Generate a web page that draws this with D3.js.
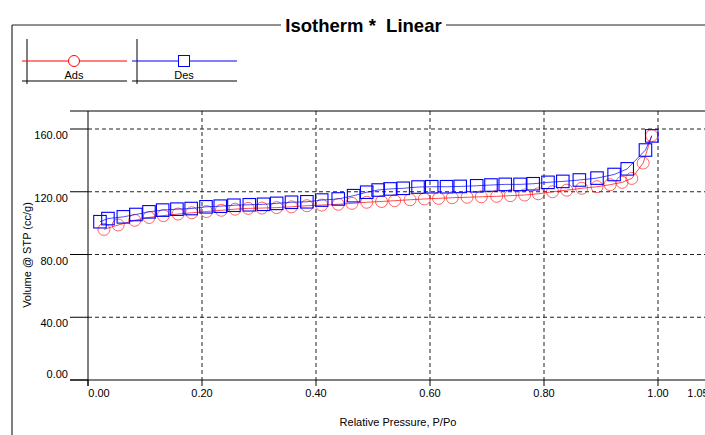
<!DOCTYPE html>
<html>
<head>
<meta charset="utf-8">
<script src="https://cdn.jsdelivr.net/npm/d3@7"></script>
<style>
  body { margin: 0; background: #fff; }
  svg { display: block; font-family: 'Liberation Sans', Arial, sans-serif; }
</style>
</head>
<body>
<svg width="705" height="435"></svg>
<script>
// isotherm data: relative pressure P/Po and volume (cc/g STP)
const adsP = [0.028, 0.053, 0.082, 0.107, 0.132, 0.158, 0.182, 0.208, 0.234, 0.258,
              0.281, 0.305, 0.331, 0.357, 0.384, 0.410, 0.439, 0.463, 0.489, 0.515,
              0.538, 0.565, 0.590, 0.615, 0.639, 0.665, 0.690, 0.717, 0.741, 0.766,
              0.790, 0.815, 0.840, 0.866, 0.893, 0.916, 0.937, 0.954, 0.974, 0.989];
const adsV = [96.0, 98.8, 101.8, 103.6, 104.8, 105.8, 106.6, 107.4, 108.2, 108.9,
              109.4, 109.6, 109.9, 110.4, 111.1, 111.5, 112.0, 112.6, 113.3, 113.8,
              114.3, 114.9, 115.4, 115.8, 116.2, 116.5, 116.8, 117.1, 117.5, 117.9,
              118.7, 120.0, 121.0, 122.2, 123.2, 124.5, 126.0, 128.5, 138.3, 155.8];

const desP = [0.021, 0.035, 0.062, 0.084, 0.107, 0.131, 0.156, 0.181, 0.207, 0.232,
              0.256, 0.283, 0.308, 0.331, 0.357, 0.384, 0.410, 0.439, 0.466, 0.489,
              0.509, 0.530, 0.553, 0.579, 0.603, 0.629, 0.653, 0.682, 0.707, 0.732,
              0.758, 0.781, 0.807, 0.833, 0.862, 0.893, 0.923, 0.946, 0.978, 0.989];
const desV = [100.9, 102.9, 104.0, 105.5, 107.2, 108.3, 108.9, 109.3, 110.4, 110.8,
              111.4, 111.7, 112.0, 112.6, 113.3, 113.6, 114.7, 115.4, 117.5, 119.7,
              121.1, 121.8, 122.2, 123.0, 123.2, 123.2, 123.4, 123.8, 124.3, 124.7,
              124.7, 125.1, 126.0, 126.6, 127.5, 128.7, 131.0, 134.6, 146.6, 155.6];

const xTicks = [0, 0.2, 0.4, 0.6, 0.8, 1.0];
const yTicks = [0, 40, 80, 120, 160];
const xEndLabel = '1.05';

const series = [
  { name: 'Ads', p: adsP, v: adsV, color: '#ff0000', marker: 'circle' },
  { name: 'Des', p: desP, v: desV, color: '#0000ff', marker: 'square' }
];

const svg = d3.select('svg');

const x = d3.scaleLinear().domain([0, 1]).range([88, 658]);
const y = d3.scaleLinear().domain([0, 160]).range([380, 129]);
const plotTop = 111, plotRight = 705, axisLeft = 70;

// frame round the chart, broken by the title
const frame = svg.append('g').attr('class', 'frame');
frame.append('line').attr('x1', 12).attr('x2', 12).attr('y1', 25).attr('y2', 435)
  .style('stroke', '#555').style('stroke-width', 1.5);
frame.append('line').attr('x1', 12).attr('x2', 281).attr('y1', 25).attr('y2', 25)
  .style('stroke', '#222').style('stroke-width', 1);
frame.append('line').attr('x1', 446).attr('x2', 705).attr('y1', 25).attr('y2', 25)
  .style('stroke', '#222').style('stroke-width', 1);
frame.append('text')
  .attr('x', 363.5).attr('y', 32)
  .attr('text-anchor', 'middle')
  .style('font-size', '18.5px').style('font-weight', 700)
  .style('white-space', 'pre')
  .text('Isotherm *  Linear');

// legend
const legend = svg.append('g').attr('class', 'legendGrp');
const legItems = legend.selectAll('g.legItem')
  .data(series)
  .enter()
  .append('g')
  .attr('class', 'legItem')
  .attr('transform', (d, i) => `translate(${22 + i * 110}, 0)`);

legItems.append('line').attr('x1', 5).attr('x2', 5).attr('y1', 39).attr('y2', 84)
  .style('stroke', '#000').style('stroke-width', 1);
legItems.append('line').attr('x1', 0).attr('x2', 105).attr('y1', 81).attr('y2', 81)
  .style('stroke', '#000').style('stroke-width', 1);
legItems.append('line').attr('x1', 0).attr('x2', 105).attr('y1', 61).attr('y2', 61)
  .style('stroke', d => d.color).style('stroke-width', 1);
legItems.each(function(d) {
  const g = d3.select(this);
  if (d.marker === 'circle') {
    g.append('circle').attr('cx', 52).attr('cy', 61).attr('r', 5.5)
      .style('fill', '#fff').style('stroke', d.color);
  } else {
    g.append('rect').attr('x', 46.5).attr('y', 55.5).attr('width', 11).attr('height', 11)
      .style('fill', '#fff').style('stroke', d.color);
  }
});
legItems.append('text')
  .attr('x', 52).attr('y', 78.5)
  .attr('text-anchor', 'middle')
  .style('font-size', '11px')
  .text(d => d.name);

// grid
const grid = svg.append('g').attr('class', 'grid')
  .style('stroke', '#222').style('stroke-width', 1).style('stroke-dasharray', '4,3');
grid.selectAll('line.hGrid')
  .data(yTicks.filter(d => d > 0))
  .enter().append('line').attr('class', 'hGrid')
  .attr('x1', x(0)).attr('x2', plotRight)
  .attr('y1', d => y(d)).attr('y2', d => y(d));
grid.selectAll('line.vGrid')
  .data(xTicks.filter(d => d > 0))
  .enter().append('line').attr('class', 'vGrid')
  .attr('x1', d => x(d)).attr('x2', d => x(d))
  .attr('y1', plotTop).attr('y2', y(0));

// axes
const axes = svg.append('g').attr('class', 'axes').style('stroke', '#000').style('stroke-width', 1);
axes.append('line').attr('x1', axisLeft).attr('x2', plotRight).attr('y1', plotTop).attr('y2', plotTop);
axes.append('line').attr('x1', axisLeft).attr('x2', plotRight).attr('y1', y(0)).attr('y2', y(0));
axes.append('line').attr('x1', x(0)).attr('x2', x(0)).attr('y1', plotTop).attr('y2', y(0) + 6);
axes.selectAll('line.yTick')
  .data(yTicks)
  .enter().append('line').attr('class', 'yTick')
  .attr('x1', axisLeft).attr('x2', x(0))
  .attr('y1', d => y(d)).attr('y2', d => y(d));
axes.selectAll('line.xTick')
  .data(xTicks)
  .enter().append('line').attr('class', 'xTick')
  .attr('x1', d => x(d)).attr('x2', d => x(d))
  .attr('y1', y(0)).attr('y2', y(0) + 6);

const fmt = d3.format('.2f');
svg.append('g').selectAll('text.yLab')
  .data(yTicks)
  .enter().append('text').attr('class', 'yLab')
  .attr('x', 68)
  .attr('y', d => d === 0 ? y(d) - 2 : y(d) + 10)
  .attr('text-anchor', 'end')
  .style('font-size', '11px')
  .text(d => fmt(d));

svg.append('g').selectAll('text.xLab')
  .data(xTicks)
  .enter().append('text').attr('class', 'xLab')
  .attr('x', d => d === 0 ? x(d) + 11 : x(d))
  .attr('y', 397)
  .attr('text-anchor', 'middle')
  .style('font-size', '11px')
  .text(d => fmt(d));
svg.append('text')
  .attr('x', 698).attr('y', 397)
  .attr('text-anchor', 'middle')
  .style('font-size', '11px')
  .text(xEndLabel);

svg.append('text')
  .attr('x', 398).attr('y', 426)
  .attr('text-anchor', 'middle')
  .style('font-size', '11px')
  .text('Relative Pressure, P/Po');
svg.append('text')
  .attr('transform', 'translate(31, 255) rotate(-90)')
  .attr('text-anchor', 'middle')
  .style('font-size', '11px')
  .text('Volume @ STP (cc/g)');

// series lines and markers
const lineGen = d3.line().x(d => x(d[0])).y(d => y(d[1]));
const serGrps = svg.selectAll('g.serGrp')
  .data(series)
  .enter().append('g').attr('class', d => 'serGrp ' + d.name);

serGrps.append('path')
  .attr('d', d => lineGen(d.p.map((p, i) => [p, d.v[i]])))
  .style('fill', 'none')
  .style('stroke', d => d.color)
  .style('stroke-opacity', 0.7)
  .style('stroke-width', 1);

serGrps.each(function(d) {
  const g = d3.select(this);
  const pts = d.p.map((p, i) => [p, d.v[i]]);
  if (d.marker === 'circle') {
    g.selectAll('circle').data(pts).enter().append('circle')
      .attr('cx', p => x(p[0])).attr('cy', p => y(p[1])).attr('r', 6)
      .style('fill', 'none').style('stroke', d.color).style('stroke-opacity', 0.6);
  } else {
    g.selectAll('rect').data(pts).enter().append('rect')
      .attr('x', p => x(p[0]) - 6.25).attr('y', p => y(p[1]) - 6.25)
      .attr('width', 12.5).attr('height', 12.5)
      .style('fill', 'none').style('stroke', d.color).style('stroke-width', 1.1);
  }
});
</script>
</body>
</html>
